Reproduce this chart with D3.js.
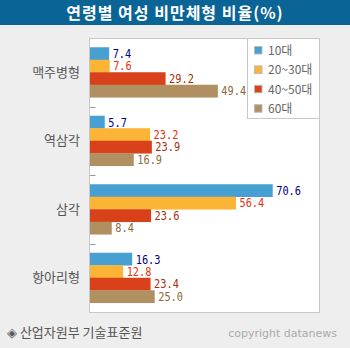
<!DOCTYPE html>
<html><head><meta charset="utf-8">
<script src="https://cdn.jsdelivr.net/npm/d3@7"></script>
<style>html,body{margin:0;padding:0;background:#eeeeee;}svg{display:block;}</style>
</head><body>
<script>
const title = "연령별 여성 비만체형 비율(%)";
const categories = ["맥주병형", "역삼각", "삼각", "항아리형"];
const seriesNames = ["10대", "20~30대", "40~50대", "60대"];
const v10 = [7.4, 5.7, 70.6, 16.3];
const v2030 = [7.6, 23.2, 56.4, 12.8];
const v4050 = [29.2, 23.9, 23.6, 23.4];
const v60 = [49.4, 16.9, 8.4, 25.0];
const source = "◈ 산업자원부 기술표준원";
const credit = "copyright datanews";

const seriesValues = [v10, v2030, v4050, v60];
const barColors = ["#47a0d1", "#fbb436", "#d84119", "#b08f60"];
const labelColors = ["#000080", "#e8300a", "#a3300a", "#8a6a3a"];

const W = 350, H = 348;
const svg = d3.select("body").append("svg").attr("width", W).attr("height", H);
svg.append("rect").attr("width", W).attr("height", H).attr("fill", "#eeeeee");

// title bar
svg.append("rect").attr("x", 0).attr("y", 0).attr("width", W).attr("height", 25).attr("fill", "#0a6496");
svg.append("text").attr("x", W / 2).attr("y", 18.5).attr("text-anchor", "middle")
  .attr("fill", "#ffffff").attr("font-family", "Noto Sans CJK KR").attr("font-size", 16)
  .attr("font-weight", "bold").attr("letter-spacing", 1).text(title);

const plot = {x0: 89.5, x1: 319.5, y0: 38.5, y1: 312.5};
svg.append("rect").attr("x", plot.x0).attr("y", plot.y0)
  .attr("width", plot.x1 - plot.x0).attr("height", plot.y1 - plot.y0)
  .attr("fill", "#ffffff").attr("stroke", "#c8c8c8").attr("stroke-width", 1);

const x = d3.scaleLinear().domain([0, 85]).range([plot.x0 + 0.5, plot.x0 + 0.5 + 220]);
const y = d3.scaleBand().domain(categories).range([38, 312]).paddingInner(0.27).paddingOuter(0.135);
const ys = d3.scaleBand().domain(d3.range(seriesNames.length)).range([0, y.bandwidth()]).padding(0);

// category labels
svg.append("g").selectAll("text").data(categories).join("text")
  .attr("x", 80).attr("y", d => y(d) + y.bandwidth() / 2 + 4.5)
  .attr("text-anchor", "end").attr("fill", "#555555")
  .attr("font-family", "Noto Sans CJK KR").attr("font-size", 13).text(d => d);

// separator ticks
svg.append("g").selectAll("line").data(categories.slice(1)).join("line")
  .attr("x1", plot.x0 + 0.5).attr("x2", plot.x0 + 6)
  .attr("y1", d => Math.round(y(d) - y.step() * y.paddingInner() / 2) + 0.5)
  .attr("y2", d => Math.round(y(d) - y.step() * y.paddingInner() / 2) + 0.5)
  .attr("stroke", "#999999");

// legend
const lg = svg.append("g");
lg.append("rect").attr("x", 247.5).attr("y", 38.5).attr("width", 72).attr("height", 80)
  .attr("fill", "#ffffff").attr("stroke", "#c8c8c8");
seriesNames.forEach((n, i) => {
  const cy = 50.5 + i * 19.4;
  lg.append("rect").attr("x", 254.5).attr("y", cy - 4).attr("width", 7.5).attr("height", 7.5)
    .attr("fill", barColors[i]).attr("stroke", "#bbbbbb");
  lg.append("text").attr("x", 268).attr("y", cy + 4.5).attr("fill", "#666666")
    .attr("font-family", "Noto Sans CJK KR").attr("font-size", 12).text(n);
});

// bars
const groups = svg.append("g").selectAll("g").data(categories).join("g")
  .attr("transform", d => `translate(0,${y(d)})`);
groups.each(function(cat, ci) {
  const g = d3.select(this);
  seriesValues.forEach((vals, si) => {
    const v = vals[ci];
    g.append("rect").attr("x", x(0)).attr("y", ys(si))
      .attr("width", x(v) - x(0)).attr("height", ys.bandwidth() + 0.3)
      .attr("fill", barColors[si]);
    const s = v.toFixed(1);
    g.append("text").attr("x", x(v) + 3.5).attr("y", ys(si) + ys.bandwidth() / 2 + 4.5)
      .attr("fill", labelColors[si]).attr("font-family", "DejaVu Sans Mono")
      .attr("font-size", 12).attr("textLength", s.length * 6.2).attr("lengthAdjust", "spacingAndGlyphs")
      .text(s);
  });
});

// footer
svg.append("text").attr("x", 7).attr("y", 337).attr("fill", "#555555")
  .attr("font-family", "Noto Sans CJK KR").attr("font-size", 13).text(source);
svg.append("text").attr("x", 337).attr("y", 337).attr("text-anchor", "end").attr("fill", "#aaaaaa")
  .attr("font-family", "DejaVu Sans").attr("font-size", 11).text(credit);
</script>
</body></html>
